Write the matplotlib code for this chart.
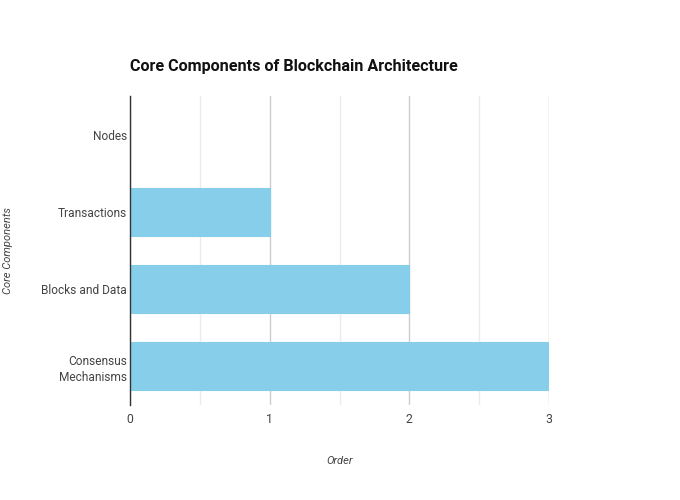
import matplotlib
matplotlib.use("Agg")
import matplotlib.pyplot as plt
import numpy as np

categories = ["Consensus\nMechanisms", "Blocks and Data", "Transactions", "Nodes"]
values = [3, 2, 1, 0]
x_ticks = [0, 1, 2, 3]

plt.rcParams['font.family'] = ['Roboto', 'DejaVu Sans']

fig = plt.figure(figsize=(6.8, 5.0), dpi=100)
ax = fig.add_axes([130/680, 1-405/500, (549-130)/680, (405-96)/500])

y = np.arange(len(categories))
ax.barh(y, values, height=0.62, color="#87CEEB", edgecolor="#87CEEB", linewidth=0.8, zorder=3)

ax.set_xlim(0, 3)
ax.set_ylim(-0.5, 3.5)
ax.set_xticks(x_ticks)
ax.set_xticklabels([str(t) for t in x_ticks], fontsize=8.8, color="#444444")
ax.set_xticks([0.5, 1.5, 2.5], minor=True)
ax.set_yticks(y)
ax.set_yticklabels(categories, fontsize=8.6, color="#444444", linespacing=1.35)
ax.tick_params(axis='both', which='both', length=0)
ax.tick_params(axis='y', pad=2)
ax.tick_params(axis='x', pad=6)
ax.grid(axis='x', which='major', color="#cccccc", linewidth=1, zorder=0)
ax.grid(axis='x', which='minor', color="#ebebeb", linewidth=1, zorder=0)
for s in ['top', 'right', 'bottom']:
    ax.spines[s].set_visible(False)
ax.spines['left'].set_color("#333333")
ax.spines['left'].set_linewidth(1)
ax.spines['left'].set_zorder(4)

fig.text(130/680, 1-67/500, "Core Components of Blockchain Architecture",
         fontsize=11.6, fontweight='bold', color="#111111", va='center', ha='left')
fig.text(339.5/680, 1-461/500, "Order", fontsize=8, style='italic', color="#444444",
         ha='center', va='center')
fig.text(8/680, 1-250/500, "Core Components", fontsize=8, style='italic', color="#444444",
         ha='center', va='center', rotation=90)

fig.savefig("out.png", dpi=100, facecolor="white")
